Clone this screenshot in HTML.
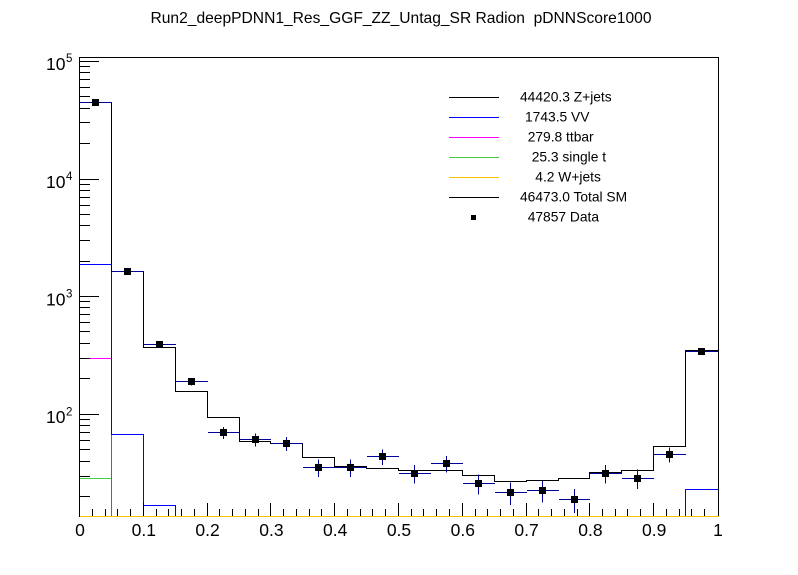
<!DOCTYPE html>
<html><head><meta charset="utf-8"><style>
html,body{margin:0;padding:0;background:#fff;}
svg{display:block;}
text{font-family:"Liberation Sans",Arial,sans-serif;fill:#000;white-space:pre;}
</style></head><body>
<svg width="798" height="575" viewBox="0 0 798 575" xmlns="http://www.w3.org/2000/svg" xml:space="preserve">
<rect width="798" height="575" fill="#fff"/>
<text x="401" y="23" font-size="15.6" text-anchor="middle" xml:space="preserve">Run2_deepPDNN1_Res_GGF_ZZ_Untag_SR Radion&#160;&#160;pDNNScore1000</text>
<defs><clipPath id="c"><rect x="79" y="57" width="640" height="460"/></clipPath></defs>
<g clip-path="url(#c)" fill="none" stroke-width="1">
<path stroke="#44cc44" d="M79.5,520 V478.5 H111.5 V520"/>
<path stroke="#ff00ff" d="M79.5,520 V358.5 H111.5 V520"/>
<path stroke="#0000ff" d="M79.5,520 V264.5 H111.5 V434.5 H143.5 V505.5 H175.5 V520 M685.5,520 V489.5 H718.5 V520"/>
<path stroke="#000" d="M79.5,520 V102.5 H111.5 V271.5 H143.5 V347.5 H175.5 V391.5 H207.5 V417.5 H239.5 V441.5 H270.5 V443.5 H302.5 V457.5 H334.5 V466.5 H366.5 V468.5 H398.5 V470.5 H430.5 V470.5 H462.5 V475.5 H494.5 V481.5 H526.5 V480.5 H558.5 V478.5 H589.5 V472.5 H621.5 V470.5 H653.5 V446.5 H685.5 V350.5 H718.5 V520"/>
</g>
<g fill="none" stroke="#000" stroke-width="1">
<rect x="79.5" y="57.5" width="639" height="459"/>
<path d="M80,61.5 H99 M80,179.5 H99 M80,296.5 H99 M80,414.5 H99"/>
<path d="M80,496.5 H90 M80,476.5 H90 M80,461.5 H90 M80,449.5 H90 M80,440.5 H90 M80,432.5 H90 M80,425.5 H90 M80,419.5 H90
M80,378.5 H90 M80,358.5 H90 M80,343.5 H90 M80,331.5 H90 M80,322.5 H90 M80,314.5 H90 M80,307.5 H90 M80,301.5 H90
M80,261.5 H90 M80,240.5 H90 M80,225.5 H90 M80,214.5 H90 M80,205.5 H90 M80,197.5 H90 M80,190.5 H90 M80,184.5 H90
M80,143.5 H90 M80,122.5 H90 M80,108.5 H90 M80,96.5 H90 M80,87.5 H90 M80,79.5 H90 M80,72.5 H90 M80,66.5 H90"/>
<path d="M143.5,516 V503 M207.5,516 V503 M270.5,516 V503 M334.5,516 V503 M398.5,516 V503 M462.5,516 V503 M526.5,516 V503 M589.5,516 V503 M653.5,516 V503"/>
<path d="M92.5,516 V509 M105.5,516 V509 M117.5,516 V509 M130.5,516 V509
M156.5,516 V509 M168.5,516 V509 M181.5,516 V509 M194.5,516 V509
M219.5,516 V509 M232.5,516 V509 M245.5,516 V509 M258.5,516 V509
M283.5,516 V509 M296.5,516 V509 M309.5,516 V509 M321.5,516 V509
M347.5,516 V509 M360.5,516 V509 M372.5,516 V509 M385.5,516 V509
M411.5,516 V509 M423.5,516 V509 M436.5,516 V509 M449.5,516 V509
M475.5,516 V509 M487.5,516 V509 M500.5,516 V509 M513.5,516 V509
M538.5,516 V509 M551.5,516 V509 M564.5,516 V509 M577.5,516 V509
M602.5,516 V509 M615.5,516 V509 M627.5,516 V509 M640.5,516 V509
M666.5,516 V509 M679.5,516 V509 M691.5,516 V509 M704.5,516 V509"/>
</g>
<rect x="80" y="516" width="639" height="1" fill="#f5c400"/>
<!-- data error bars -->
<g stroke="#000099" stroke-width="1" fill="none">
<path d="M80,102.5 H112"/>
<path d="M112,271.5 H144 M127.5,270 V273"/>
<path d="M144,344.5 H176 M159.5,342 V347"/>
<path d="M176,381.5 H208 M191.5,378 V385.5"/>
<path d="M208,432.5 H240 M223.5,427 V439"/>
<path d="M240,439.5 H271 M255.5,433.5 V446.5"/>
<path d="M271,443.5 H303 M286.5,437 V451"/>
<path d="M303,467.5 H335 M318.5,459.5 V477"/>
<path d="M335,467.5 H367 M350.5,459.5 V477"/>
<path d="M367,456.5 H399 M382.5,449.5 V465"/>
<path d="M399,473.5 H431 M414.5,465 V483.5"/>
<path d="M431,463.5 H463 M446.5,456 V472.5"/>
<path d="M463,483.5 H495 M478.5,474.5 V494.5"/>
<path d="M495,492.5 H527 M510.5,482.5 V505"/>
<path d="M527,490.5 H559 M542.5,481 V502.5"/>
<path d="M559,499.5 H590 M574.5,489 V513"/>
<path d="M590,473.5 H622 M605.5,465 V483.5"/>
<path d="M622,478.5 H654 M637.5,469.5 V489"/>
<path d="M654,454.5 H686 M669.5,447.5 V462.5"/>
<path d="M686,351.5 H718 M701.5,349 V354.5"/>
</g>
<g fill="#000">
<rect x="92" y="99" width="7" height="7"/>
<rect x="124" y="268" width="7" height="7"/>
<rect x="156" y="341" width="7" height="7"/>
<rect x="188" y="378" width="7" height="7"/>
<rect x="220" y="429" width="7" height="7"/>
<rect x="252" y="436" width="7" height="7"/>
<rect x="283" y="440" width="7" height="7"/>
<rect x="315" y="464" width="7" height="7"/>
<rect x="347" y="464" width="7" height="7"/>
<rect x="379" y="453" width="7" height="7"/>
<rect x="411" y="470" width="7" height="7"/>
<rect x="443" y="460" width="7" height="7"/>
<rect x="475" y="480" width="7" height="7"/>
<rect x="507" y="489" width="7" height="7"/>
<rect x="539" y="487" width="7" height="7"/>
<rect x="571" y="496" width="7" height="7"/>
<rect x="602" y="470" width="7" height="7"/>
<rect x="634" y="475" width="7" height="7"/>
<rect x="666" y="451" width="7" height="7"/>
<rect x="698" y="348" width="7" height="7"/>
</g>
<!-- y labels -->
<g font-size="17.5">
<text x="65.5" y="70" text-anchor="end">10</text>
<text x="65.5" y="188" text-anchor="end">10</text>
<text x="65.5" y="305.5" text-anchor="end">10</text>
<text x="65.5" y="423" text-anchor="end">10</text>
</g>
<g font-size="11.5">
<text x="66" y="62">5</text>
<text x="66" y="180">4</text>
<text x="66" y="297.5">3</text>
<text x="66" y="415.5">2</text>
</g>
<!-- x labels -->
<g font-size="17.5" text-anchor="middle">
<text x="80" y="536">0</text>
<text x="143.8" y="536">0.1</text>
<text x="207.6" y="536">0.2</text>
<text x="271.4" y="536">0.3</text>
<text x="335.2" y="536">0.4</text>
<text x="399" y="536">0.5</text>
<text x="462.8" y="536">0.6</text>
<text x="526.6" y="536">0.7</text>
<text x="590.4" y="536">0.8</text>
<text x="654.2" y="536">0.9</text>
<text x="718" y="536">1</text>
</g>
<!-- legend -->
<rect x="449" y="97" width="50" height="1" fill="#000"/>
<rect x="449" y="117" width="50" height="1" fill="#0000ff"/>
<rect x="449" y="137" width="50" height="1" fill="#ff00ff"/>
<rect x="449" y="157" width="50" height="1" fill="#44cc44"/>
<rect x="449" y="177" width="50" height="1" fill="#f5c400"/>
<rect x="449" y="197" width="50" height="1" fill="#000"/>
<rect x="471" y="215" width="5" height="5" fill="#000"/>
<g font-size="13.8">
<text x="520" y="101.5">44420.3 Z+jets</text>
<text x="525" y="121.5">1743.5 VV</text>
<text x="527.7" y="141.5">279.8 ttbar</text>
<text x="531.7" y="161.5">25.3 single t</text>
<text x="535.3" y="181.5">4.2 W+jets</text>
<text x="520" y="201.5">46473.0 Total SM</text>
<text x="527.7" y="221.5">47857 Data</text>
</g>
</svg>
</body></html>
